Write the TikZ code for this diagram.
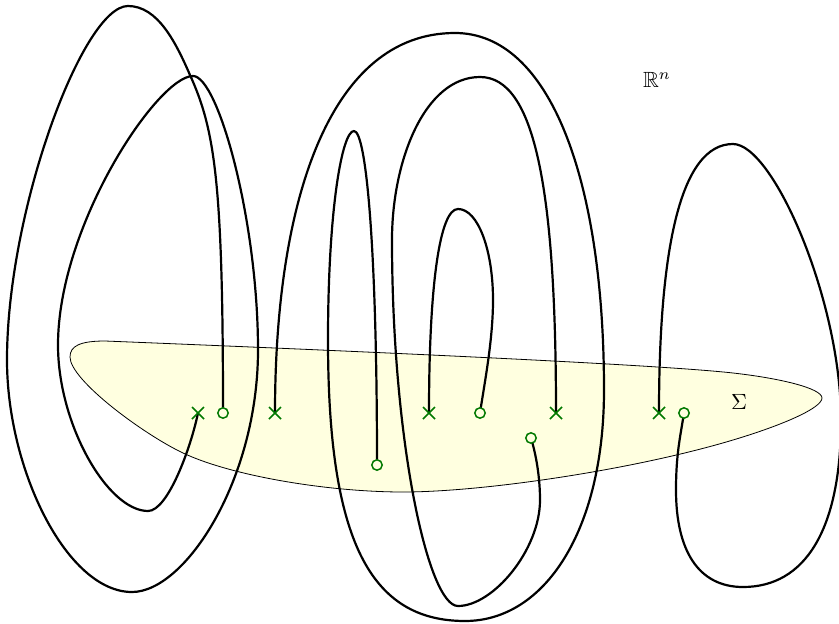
\documentclass[tikz,border=0pt]{standalone}
\usepackage{amssymb}
\begin{document}
\begin{tikzpicture}[x=1pt,y=1pt,
  strand/.style={line width=2.2pt,line cap=round,line join=round},
  xmark/.style={draw=markgreen,line width=1.5pt},
  omark/.style={draw=markgreen,line width=1.5pt}]
\definecolor{markgreen}{RGB}{0,120,0}
\definecolor{sigmafill}{RGB}{255,255,224}
\useasboundingbox (0,0) rectangle (839,-624);
% marks positions
\coordinate (o1) at (223,-413);
\coordinate (x1) at (198,-413);
\coordinate (x2) at (275,-413);
\coordinate (o2) at (377,-465);
\coordinate (x3) at (429,-413);
\coordinate (o3) at (480,-413);
\coordinate (o4) at (531,-438);
\coordinate (x4) at (556,-413);
\coordinate (x5) at (659,-413);
\coordinate (o5) at (684,-413);
% Sigma
\draw[fill=sigmafill,line width=0.8pt] (70,-357) .. controls (70,-346) and (80,-341) .. (105,-341)
 .. controls (330,-350) and (653,-364) .. (733,-373)
 .. controls (778,-378) and (822,-388) .. (822,-398)
 .. controls (822,-408) and (783,-425) .. (733,-440)
 .. controls (633,-470) and (483,-492) .. (403,-492)
 .. controls (330,-492) and (233,-476.5) .. (183,-453)
 .. controls (143,-434) and (70,-380) .. (70,-357) -- cycle;
% curve A
\draw[strand] (o1) .. controls (223,-183) and (215,-130) .. (190,-75)
 .. controls (176,-43) and (158,-6) .. (128,-6)
 .. controls (83,-6) and (7,-210) .. (7,-360)
 .. controls (7,-470) and (67,-592) .. (132,-592)
 .. controls (185,-592) and (258,-480) .. (258,-350)
 .. controls (258,-220) and (218,-76) .. (193,-76)
 .. controls (158,-76) and (58,-225) .. (58,-345)
 .. controls (58,-425) and (108,-511) .. (148,-511)
 .. controls (168,-511) and (191,-447) .. (x1);
% curve B
\draw[strand] (x2) .. controls (275,-200) and (330,-33) .. (455,-33)
 .. controls (550,-33) and (604,-180) .. (604,-390)
 .. controls (604,-530) and (545,-621) .. (465,-621)
 .. controls (370,-621) and (328,-540) .. (328,-340)
 .. controls (328,-210) and (342,-131) .. (354,-131)
 .. controls (366,-131) and (377,-245) .. (o2);
% curve C
\draw[strand] (x3) .. controls (429,-283) and (440,-209) .. (458,-209)
 .. controls (478,-209) and (493,-250) .. (493,-300)
 .. controls (493,-340) and (484.5,-383) .. (o3);
% curve E
\draw[strand] (o4) .. controls (537,-458) and (540,-480) .. (540,-500)
 .. controls (540,-550) and (493,-606) .. (458,-606)
 .. controls (428,-606) and (392,-440) .. (392,-240)
 .. controls (392,-160) and (425,-77) .. (480,-77)
 .. controls (535,-77) and (556,-190) .. (x4);
% curve D
\draw[strand] (x5) .. controls (659,-250) and (680,-144) .. (733,-144)
 .. controls (773,-144) and (841,-300) .. (841,-420)
 .. controls (841,-530) and (805,-587) .. (743,-587)
 .. controls (698,-587) and (676,-550) .. (676,-490)
 .. controls (676,-455) and (680,-438) .. (o5);
% marks
\foreach \m in {x1,x2,x3,x4,x5}{
  \draw[xmark] ([shift={(-6,-6)}]\m) -- ([shift={(6,6)}]\m) ([shift={(-6,6)}]\m) -- ([shift={(6,-6)}]\m);
}
\foreach \m in {o1,o2,o3,o4,o5}{
  \draw[omark,fill=sigmafill] (\m) circle[radius=5.2pt];
}
\node[scale=2.2] (Rn) at (657,-80) {$\mathbb{R}^n$};
\node[scale=2.2] (Sig) at (739,-402) {$\Sigma$};
\end{tikzpicture}
\end{document}
